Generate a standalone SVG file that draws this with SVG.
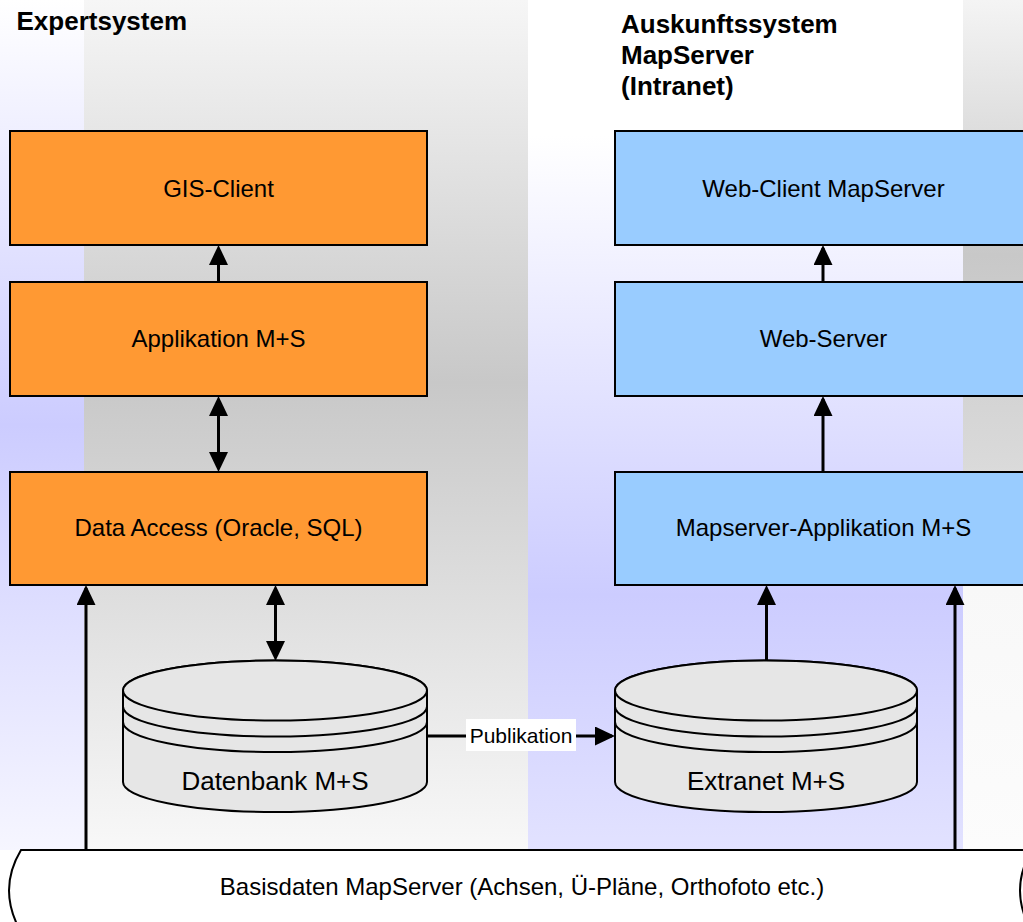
<svg xmlns="http://www.w3.org/2000/svg" width="1023" height="922" viewBox="0 0 1023 922">
<defs>
<linearGradient id="gLav1" x1="0" y1="0" x2="0" y2="850" gradientUnits="userSpaceOnUse">
<stop offset="0" stop-color="#ffffff"/><stop offset="0.5" stop-color="#ccccff"/><stop offset="1" stop-color="#f6f6ff"/>
</linearGradient>
<linearGradient id="gGrey1" x1="0" y1="0" x2="0" y2="850" gradientUnits="userSpaceOnUse">
<stop offset="0" stop-color="#f6f6f6"/><stop offset="0.45" stop-color="#c8c8c8"/><stop offset="1" stop-color="#f8f8f8"/>
</linearGradient>
<linearGradient id="gLav2" x1="0" y1="0" x2="0" y2="850" gradientUnits="userSpaceOnUse">
<stop offset="0" stop-color="#ffffff"/><stop offset="0.16" stop-color="#ffffff"/><stop offset="0.7" stop-color="#ccccff"/><stop offset="1" stop-color="#e2e2ff"/>
</linearGradient>
<linearGradient id="gGrey2" x1="0" y1="0" x2="0" y2="850" gradientUnits="userSpaceOnUse">
<stop offset="0" stop-color="#f4f4f4"/><stop offset="0.3" stop-color="#c8c8c8"/><stop offset="0.55" stop-color="#dadada"/><stop offset="0.69" stop-color="#f8f8f8"/><stop offset="1" stop-color="#fcfcfc"/>
</linearGradient>
<marker id="ah" markerUnits="userSpaceOnUse" markerWidth="20" markerHeight="19" viewBox="0 0 20 19" refX="17" refY="9.5" orient="auto-start-reverse">
<path d="M0,0 L20,9.5 L0,19 Z" fill="#000"/>
</marker>
</defs>
<style>
.box{stroke:#000;stroke-width:2}
.or{fill:#ff9933}
.bl{fill:#99ccff}
.cyl{fill:#e6e6e6;stroke:#000;stroke-width:2}
.ln{fill:none;stroke:#000;stroke-width:2}
.t{font-family:"Liberation Sans",Arial,sans-serif;font-size:24px;fill:#000;text-anchor:middle}
.tc{font-family:"Liberation Sans",Arial,sans-serif;font-size:26px;fill:#000;text-anchor:middle}
.ttl{font-family:"Liberation Sans",Arial,sans-serif;font-size:26px;font-weight:bold;fill:#000}
.con{fill:none;stroke:#000;stroke-width:3}
</style>
<g id="background">
<rect x="0" y="0" width="1023" height="922" fill="#ffffff"/>
<rect x="0" y="0" width="84" height="850" fill="url(#gLav1)"/>
<rect x="84" y="0" width="444" height="850" fill="url(#gGrey1)"/>
<rect x="528" y="0" width="435" height="850" fill="url(#gLav2)"/>
<rect x="963" y="0" width="60" height="850" fill="url(#gGrey2)"/>
</g>
<g id="titles">
<text class="ttl" x="16.5" y="29.5">Expertsystem</text>
<text class="ttl" x="621" y="33">Auskunftssystem</text>
<text class="ttl" x="621" y="64">MapServer</text>
<text class="ttl" x="621" y="95">(Intranet)</text>
</g>
<g id="basisdaten">
<path d="M21,850 L1032,850 Q1008,890 1032,932 L21,932 Q-3,890 21,850 Z" fill="#ffffff" stroke="#000" stroke-width="2"/>
<text class="t" x="522" y="895">Basisdaten MapServer (Achsen, Ü-Pläne, Orthofoto etc.)</text>
</g>
<g id="gis-client">
<rect class="box or" x="10" y="131" width="417" height="114"/>
<text class="t" x="218.5" y="197">GIS-Client</text>
</g>
<g id="applikation">
<rect class="box or" x="10" y="282" width="417" height="114"/>
<text class="t" x="218.5" y="347">Applikation M+S</text>
</g>
<g id="data-access">
<rect class="box or" x="10" y="472" width="417" height="113"/>
<text class="t" x="218.5" y="536">Data Access (Oracle, SQL)</text>
</g>
<g id="web-client">
<rect class="box bl" x="615" y="131" width="430" height="114"/>
<text class="t" x="823.5" y="197">Web-Client MapServer</text>
</g>
<g id="web-server">
<rect class="box bl" x="615" y="282" width="430" height="114"/>
<text class="t" x="823.5" y="347">Web-Server</text>
</g>
<g id="mapserver-app">
<rect class="box bl" x="615" y="472" width="430" height="113"/>
<text class="t" x="823.5" y="536">Mapserver-Applikation M+S</text>
</g>
<g id="datenbank">
<path class="cyl" d="M123,690.5 L123,782 A152,30 0 0 0 427,782 L427,690.5 A152,30 0 0 0 123,690.5 Z"/>
<ellipse class="cyl" cx="275" cy="690.5" rx="152" ry="30"/>
<path class="ln" d="M123,706.5 A152,30 0 0 0 427,706.5"/>
<path class="ln" d="M123,722 A152,30 0 0 0 427,722"/>
<text class="tc" x="275" y="790">Datenbank M+S</text>
</g>
<g id="extranet">
<path class="cyl" d="M615,690.5 L615,782 A151,30 0 0 0 917,782 L917,690.5 A151,30 0 0 0 615,690.5 Z"/>
<ellipse class="cyl" cx="766" cy="690.5" rx="151" ry="30"/>
<path class="ln" d="M615,706.5 A151,30 0 0 0 917,706.5"/>
<path class="ln" d="M615,722 A151,30 0 0 0 917,722"/>
<text class="tc" x="766" y="790">Extranet M+S</text>
</g>
<g id="connectors">
<line class="con" x1="218.5" y1="282" x2="218.5" y2="248" marker-end="url(#ah)"/>
<line class="con" x1="218.5" y1="399" x2="218.5" y2="469" marker-start="url(#ah)" marker-end="url(#ah)"/>
<line class="con" x1="275.5" y1="588" x2="275.5" y2="658" marker-start="url(#ah)" marker-end="url(#ah)"/>
<line class="con" x1="86" y1="850" x2="86" y2="588" marker-end="url(#ah)"/>
<line class="con" x1="823" y1="282" x2="823" y2="248" marker-end="url(#ah)"/>
<line class="con" x1="823" y1="472" x2="823" y2="399" marker-end="url(#ah)"/>
<line class="con" x1="766.5" y1="661" x2="766.5" y2="588" marker-end="url(#ah)"/>
<line class="con" x1="955" y1="850" x2="955" y2="588" marker-end="url(#ah)"/>
<line class="con" x1="427" y1="736" x2="612" y2="736" marker-end="url(#ah)"/>
<g id="publikation-label">
<rect x="466" y="719" width="110" height="32" fill="#ffffff"/>
<text x="521" y="742.5" font-family="'Liberation Sans',Arial,sans-serif" font-size="21" text-anchor="middle" fill="#000">Publikation</text>
</g>
</g>
</svg>
